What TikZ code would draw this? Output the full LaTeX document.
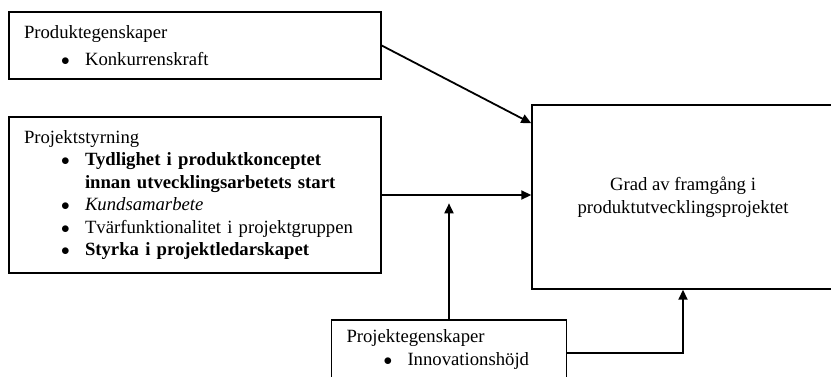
\documentclass[tikz,border=0pt]{standalone}
\usepackage{fontspec}
\setmainfont{Liberation Serif}
\usetikzlibrary{arrows.meta,positioning}
\newcommand{\punkt}{\hspace*{37pt}\makebox[24pt][l]{$\bullet$}}
\newcommand{\indrag}{\hspace*{61pt}}

\begin{document}
\begin{tikzpicture}[
  x=1pt,y=-1pt,
  faktor/.style={draw,line width=1.4pt,align=left,inner xsep=15pt,inner ysep=0pt,font=\fontsize{18.7}{22.5}\selectfont},
  utfall/.style={draw,line width=1.4pt,align=center,minimum width=302pt,minimum height=184pt,font=\fontsize{18.7}{22.5}\selectfont},
  pil/.style={-{Triangle[length=10pt,width=9pt]},line width=1.8pt}
]
\useasboundingbox (0,0) rectangle (831,376);
\node[faktor,text width=342pt,minimum height=67pt] (prod) at (195,45.5) {Produktegenskaper\\[5pt]\punkt Konkurrenskraft};
\node[faktor,text width=342pt,minimum height=156pt] (styr) at (195,195) {Projektstyrning\\
\punkt\textbf{Tydlighet i produktkonceptet}\\
\indrag\textbf{innan utvecklingsarbetets start}\\
\punkt\textit{Kundsamarbete}\\
\punkt Tvärfunktionalitet i projektgruppen\\
\punkt\textbf{Styrka i projektledarskapet}};
\node[faktor,text width=205pt,minimum height=59pt] (proj) at (449,349.5) {Projektegenskaper\\\punkt Innovationshöjd};
\node[utfall] (grad) at (683,197) {Grad av framgång i\\produktutvecklingsprojektet};
\draw[pil] (prod.east) -- ([yshift=-19pt]grad.north west);
\draw[pil] (styr.east) -- (styr.east -| grad.west);
\draw[pil] (proj.north) -- ++(0,-116);
\draw[pil] ([yshift=-3.5pt]proj.east) -| (grad.south);
\end{tikzpicture}
\end{document}
